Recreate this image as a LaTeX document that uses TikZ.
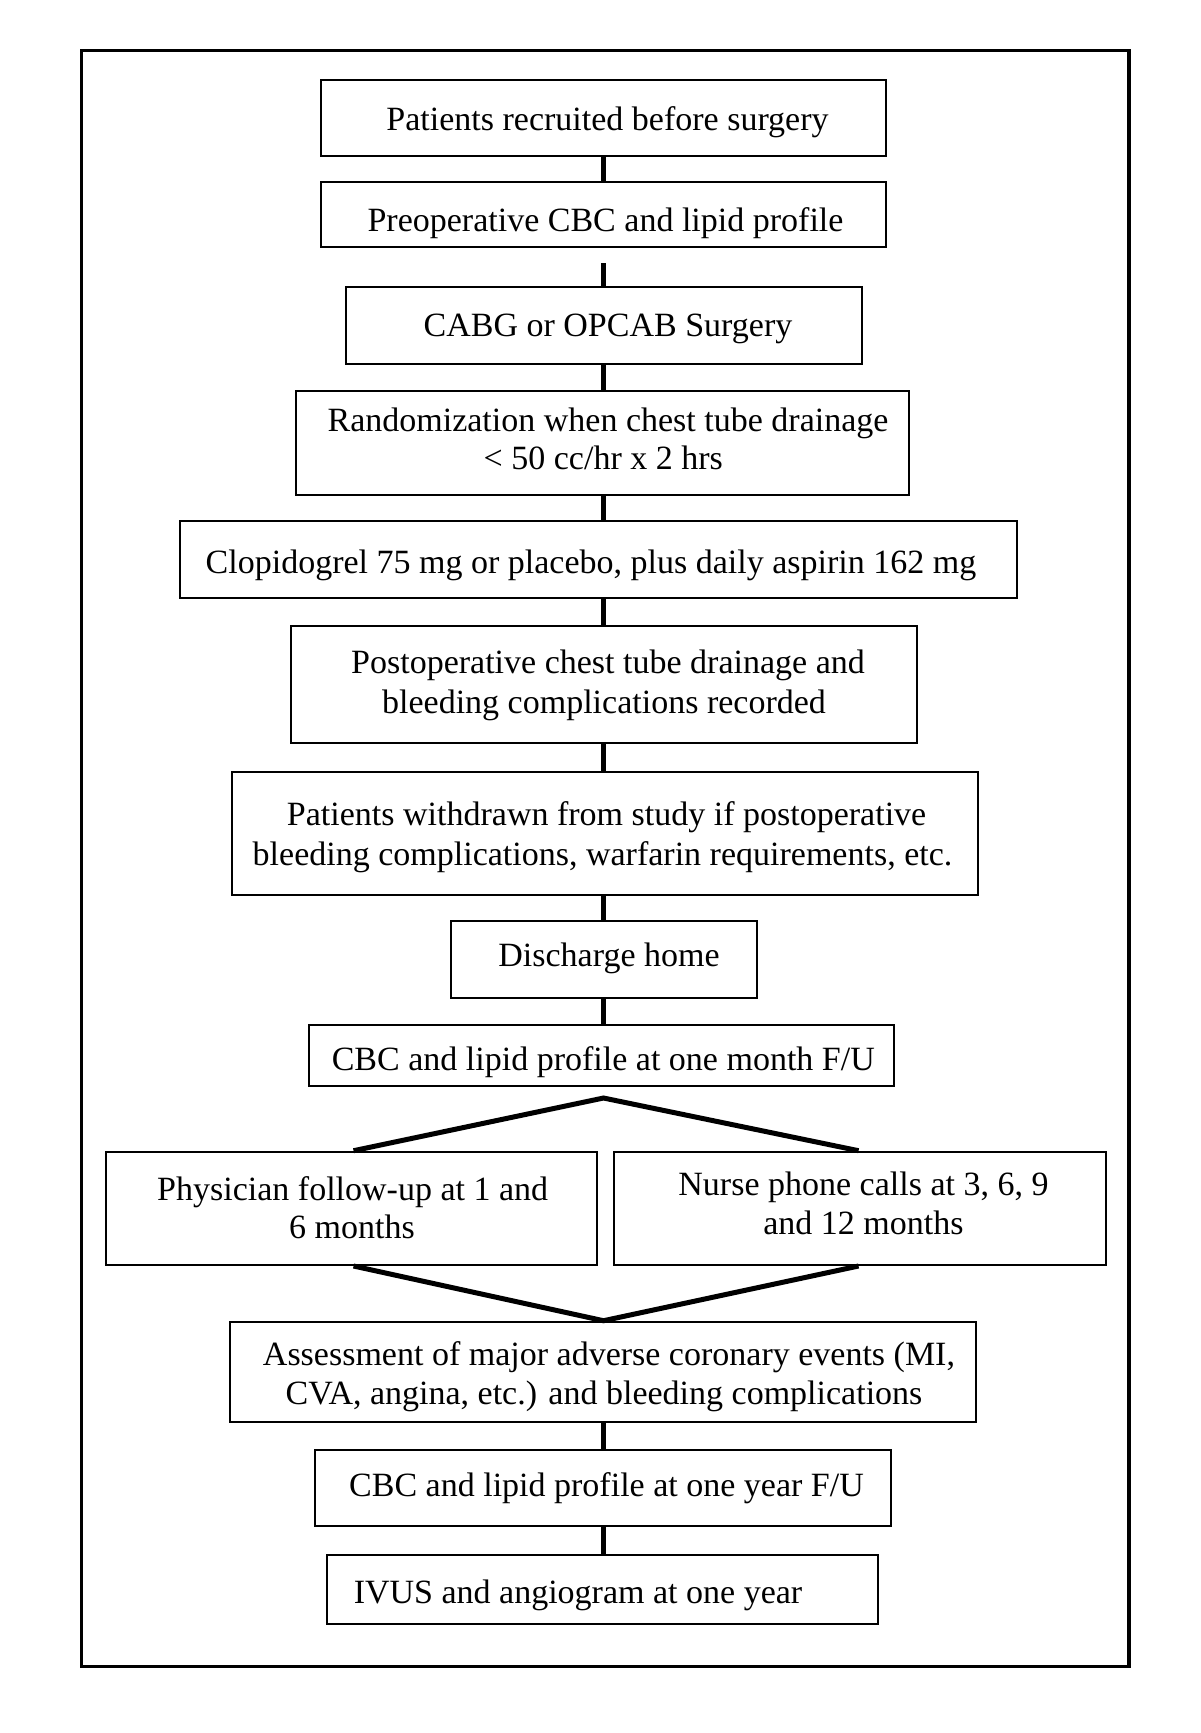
\documentclass[tikz,border=0pt]{standalone}
\usepackage{fontspec}
\setmainfont{Liberation Serif}
\begin{document}
\begin{tikzpicture}[x=1pt,y=-1pt,
  boxst/.style={draw=black,line width=2pt,inner sep=0pt,fill=none},
  txt/.style={anchor=base,inner sep=0pt,font=\fontsize{34pt}{40pt}\selectfont},
  conn/.style={draw=black,line width=5pt,line cap=butt},
  framest/.style={draw=black,line width=3.5pt}]
\newcommand\flowbox[5]{\node[boxst,minimum width={(#3-#2)*1pt},minimum height={(#5-#4)*1pt}] (#1) at ({(#2+#3)/2},{(#4+#5)/2}) {};}
\newcommand\flowtext[4]{\node[txt] (#1) at (#2,#3) {#4};}
\useasboundingbox (0,0) rectangle (1200,1733);
\fill[white] (0,0) rectangle (1200,1733);
% outer frame
\node[framest,inner sep=0pt,minimum width={(1129-81.3)*1pt},minimum height={(1666.5-50.7)*1pt}] (frame) at ({(81.3+1129)/2},{(50.7+1666.5)/2}) {};
% boxes
\flowbox{b1}{321}{886}{79.5}{155.8}
\flowbox{b2}{321}{886}{182.2}{247.1}
\flowbox{b3}{346}{861.7}{287.2}{364}
\flowbox{b4}{295.6}{909}{390.8}{495}
\flowbox{b5}{179.6}{1017}{521}{598}
\flowbox{b6}{290.8}{916.5}{626.4}{742.8}
\flowbox{b7}{231.8}{978.2}{772}{895.3}
\flowbox{b8}{450.7}{756.5}{920.8}{997.6}
\flowbox{b9}{308.5}{894}{1025.1}{1085.6}
\flowbox{b10}{106.3}{596.8}{1151.7}{1265}
\flowbox{b11}{614.4}{1105.7}{1151.7}{1265}
\flowbox{b12}{230.3}{976.3}{1321.7}{1421.7}
\flowbox{b13}{315.2}{891.4}{1449.5}{1525.5}
\flowbox{b14}{326.7}{878.3}{1554.5}{1624}
% texts
\flowtext{t1}{607.5}{130}{Patients recruited before surgery}
\flowtext{t2}{605.5}{231}{Preoperative CBC and lipid profile}
\flowtext{t3}{608}{336}{CABG or OPCAB Surgery}
\flowtext{t4a}{608}{431.6}{Randomization when chest tube drainage}
\flowtext{t4b}{603.3}{469.8}{< 50 cc/hr x 2 hrs}
\flowtext{t5}{591}{573.3}{Clopidogrel 75 mg or placebo, plus daily aspirin 162 mg}
\flowtext{t6a}{608}{673.9}{Postoperative chest tube drainage and}
\flowtext{t6b}{604}{713.5}{bleeding complications recorded}
\flowtext{t7a}{606.6}{825.4}{Patients withdrawn from study if postoperative}
\flowtext{t7b}{602.5}{865}{bleeding complications, warfarin requirements, etc.}
\flowtext{t8}{609}{966.6}{Discharge home}
\flowtext{t9}{603.3}{1070}{CBC and lipid profile at one month F/U}
\flowtext{t10a}{352.7}{1200}{Physician follow-up at 1 and}
\flowtext{t10b}{352}{1238.5}{6 months}
\flowtext{t11a}{863.5}{1195.6}{Nurse phone calls at 3, 6, 9}
\flowtext{t11b}{863.4}{1234.8}{and 12 months}
\flowtext{t12a}{609}{1365}{Assessment of major adverse coronary events (MI,}
\flowtext{t12b}{604}{1404.3}{CVA, angina, etc.) and bleeding complications}
\flowtext{t13}{606.5}{1496.7}{CBC and lipid profile at one year F/U}
\flowtext{t14}{578}{1603}{IVUS and angiogram at one year}
% connectors
\coordinate (spine) at (603.5,0);
\path ([yshift=-15pt]b2.south) coordinate (c23);
\coordinate (forkapex) at (603.5,1098);
\draw[conn] (b1.south -| spine) -- (b2.north -| spine);
\draw[conn] (c23 -| spine) -- (b3.north -| spine);
\draw[conn] (b3.south -| spine) -- (b4.north -| spine);
\draw[conn] (b4.south -| spine) -- (b5.north -| spine);
\draw[conn] (b5.south -| spine) -- (b6.north -| spine);
\draw[conn] (b6.south -| spine) -- (b7.north -| spine);
\draw[conn] (b7.south -| spine) -- (b8.north -| spine);
\draw[conn] (b8.south -| spine) -- (b9.north -| spine);
\draw[conn] ([xshift=2pt]b10.north) -- (forkapex) -- ([xshift=-1.5pt]b11.north);
\draw[conn] ([xshift=2pt]b10.south) -- (b12.north -| spine) -- ([xshift=-1.5pt]b11.south);
\draw[conn] (b12.south -| spine) -- (b13.north -| spine);
\draw[conn] (b13.south -| spine) -- (b14.north -| spine);
\end{tikzpicture}
\end{document}
